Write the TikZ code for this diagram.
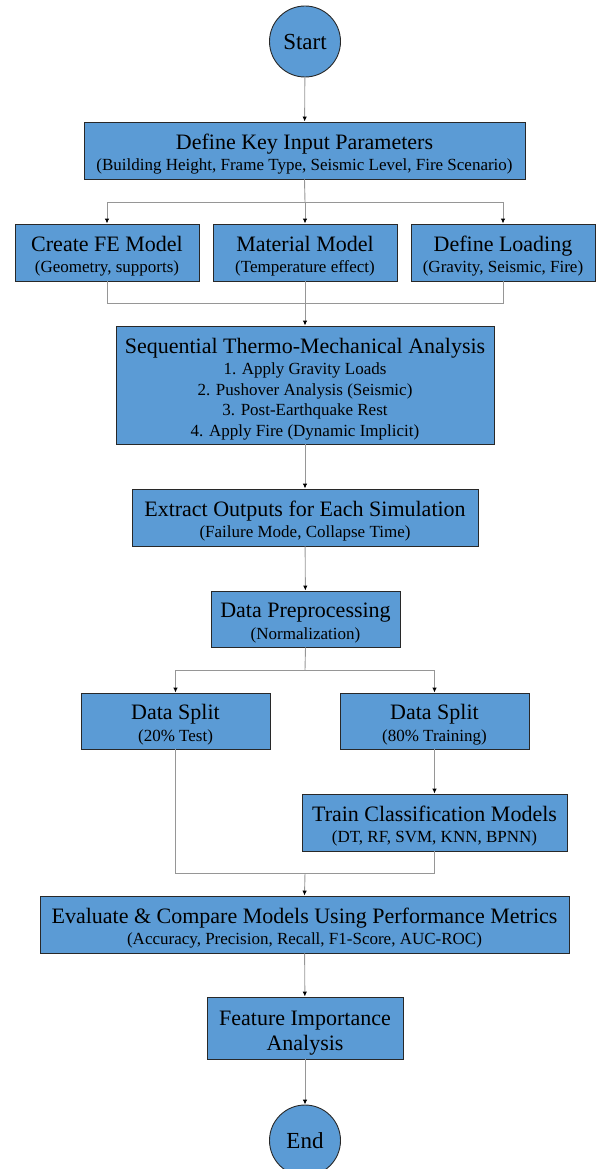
\documentclass[tikz,border=0pt]{standalone}
\usepackage{fontspec}
\setmainfont{Liberation Serif}
\usetikzlibrary{arrows.meta}

\definecolor{boxblue}{RGB}{91,155,213}
\definecolor{boxedge}{RGB}{40,40,40}
\definecolor{linkgray}{RGB}{150,150,150}

\newcommand{\bigline}[1]{{\fontsize{22}{23}\selectfont\rule{0pt}{23pt}#1}}

\tikzset{
    stagebox/.style={draw=boxedge, fill=boxblue, line width=0.9pt, inner sep=0pt, align=center, font=\fontsize{17}{20.5}\selectfont},
    endpoint/.style={draw=boxedge, fill=boxblue, line width=0.9pt, circle, minimum size=71pt, inner sep=0pt, font=\fontsize{23}{24}\selectfont},
    link/.style={draw=linkgray, line width=0.9pt},
    arrowlink/.style={link, -{Latex[length=5pt,width=4.5pt,color=black]}}
}

\begin{document}
\begin{tikzpicture}[x=1pt, y=-1pt]
            % Fix the page size
            \useasboundingbox (0,0) rectangle (597,1169);

            % Start and input stage
            \node[endpoint] (start) at (305,41.5) {Start};
            \node[stagebox, minimum width=441pt, minimum height=57pt] (params) at (304.5,150.5)
                {\bigline{Define Key Input Parameters}\\[1pt] (Building Height, Frame Type, Seismic Level, Fire Scenario)};

            % Model set-up
            \node[stagebox, minimum width=184pt, minimum height=57pt] (femodel) at (107,252.5)
                {\bigline{Create FE Model}\\[1pt] (Geometry, supports)};
            \node[stagebox, minimum width=184pt, minimum height=57pt] (material) at (305,252.5)
                {\bigline{Material Model}\\[1pt] (Temperature effect)};
            \node[stagebox, minimum width=184pt, minimum height=57pt] (loading) at (503,252.5)
                {\bigline{Define Loading}\\[1pt] (Gravity, Seismic, Fire)};

            % Analysis
            \node[stagebox, minimum width=378pt, minimum height=118pt] (analysis) at (305,385)
                {\bigline{Sequential Thermo-Mechanical Analysis}\\[1pt]
                 1. Apply Gravity Loads\\
                 2. Pushover Analysis (Seismic)\\
                 3. Post-Earthquake Rest\\
                 4. Apply Fire (Dynamic Implicit)};
            \node[stagebox, minimum width=346pt, minimum height=57pt] (outputs) at (305,517.5)
                {\bigline{Extract Outputs for Each Simulation}\\[1pt] (Failure Mode, Collapse Time)};
            \node[stagebox, minimum width=189pt, minimum height=56pt] (prep) at (305.5,619)
                {\bigline{Data Preprocessing}\\[1pt] (Normalization)};

            % Machine learning
            \node[stagebox, minimum width=189pt, minimum height=56pt] (testsplit) at (175.5,721)
                {\bigline{Data Split}\\[1pt] (20\% Test)};
            \node[stagebox, minimum width=189pt, minimum height=56pt] (trainsplit) at (434.5,721)
                {\bigline{Data Split}\\[1pt] (80\% Training)};
            \node[stagebox, minimum width=265pt, minimum height=57pt] (train) at (434.5,822.5)
                {\bigline{Train Classification Models}\\[1pt] (DT, RF, SVM, KNN, BPNN)};
            \node[stagebox, minimum width=529pt, minimum height=57pt] (evaluate) at (304.5,924.5)
                {\bigline{Evaluate \& Compare Models Using Performance Metrics}\\[1pt] (Accuracy, Precision, Recall, F1-Score, AUC-ROC)};
            \node[stagebox, minimum width=196pt, minimum height=62pt, font=\fontsize{22}{25}\selectfont] (features) at (305,1028)
                {\rule{0pt}{24pt}Feature Importance\\ Analysis};
            \node[endpoint] (finish) at (305,1140.5) {End};

            % Junction points
            \coordinate (fanout) at (305,202);
            \coordinate (fanin) at (305,303);
            \coordinate (splitfork) at (305,670);
            \coordinate (mljoin) at (305,873);

            % Connectors
            \draw[arrowlink] (start) -- (params);
            \draw[link] (params.south) -- (fanout);
            \draw[arrowlink] (fanout) -| (femodel.north);
            \draw[arrowlink] (fanout) -- (material.north);
            \draw[arrowlink] (fanout) -| (loading.north);
            \draw[link] (femodel.south) |- (fanin);
            \draw[link] (loading.south) |- (fanin);
            \draw[arrowlink] (material.south) -- (analysis.north);
            \draw[arrowlink] (analysis) -- (outputs);
            \draw[arrowlink] (outputs) -- (prep);
            \draw[link] (prep.south) -- (splitfork);
            \draw[arrowlink] (splitfork) -| (testsplit.north);
            \draw[arrowlink] (splitfork) -| (trainsplit.north);
            \draw[arrowlink] (trainsplit) -- (train);
            \draw[link] (testsplit.south) |- (mljoin);
            \draw[link] (train.south) |- (mljoin);
            \draw[arrowlink] (mljoin) -- (evaluate.north);
            \draw[arrowlink] (evaluate) -- (features);
            \draw[arrowlink] (features) -- (finish);

        \end{tikzpicture}
\end{document}
